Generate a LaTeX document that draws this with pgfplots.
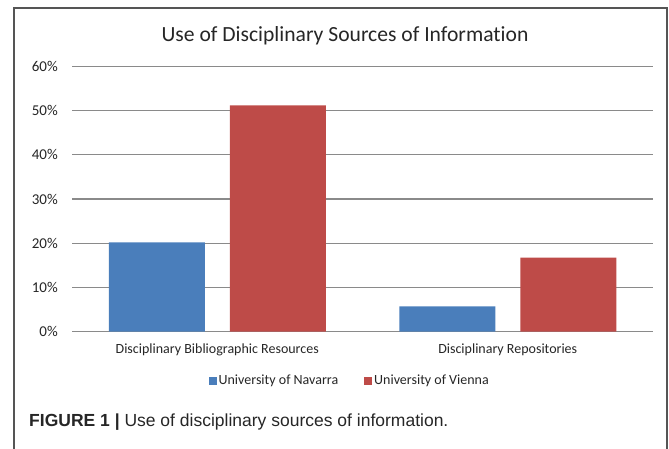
\documentclass[border=0pt]{standalone}
\usepackage{pgfplots}
\pgfplotsset{compat=1.18}
\usepackage{fontspec}
\setmainfont{Carlito}[Ligatures={NoCommon}]
\newfontfamily\captionfont{Liberation Sans}
\definecolor{navarra}{HTML}{4A7EBB}
\definecolor{vienna}{HTML}{BE4B48}
\definecolor{gridgray}{HTML}{8A8A8A}
\definecolor{framegray}{HTML}{555555}
\definecolor{labelgray}{HTML}{262626}
\begin{document}
\begin{tikzpicture}
\path[use as bounding box] (0pt,0pt) rectangle (669pt,-449pt);
% open frame round the chart and its caption
\draw[framegray, line width=1.4pt] (14pt,-452pt) -- (14pt,-8pt) -- (667pt,-8pt) -- (667pt,-452pt);
\node[font=\fontsize{21.6}{25}\selectfont, text=labelgray, anchor=base, inner sep=0pt] at (345pt,-42pt)
  {Use of Disciplinary Sources of Information};
\begin{axis}[
  at={(72pt,-331.5pt)}, anchor=south west,
  scale only axis, width=581pt, height=265pt,
  xmin=-0.5, xmax=1.5, ymin=0, ymax=60,
  ybar=25pt, bar width=96pt,
  axis line style={draw=none},
  major tick length=0pt,
  ymajorgrids, grid style={gridgray, line width=1.3pt},
  ytick={0,10,20,30,40,50,60},
  yticklabels={0\%,10\%,20\%,30\%,40\%,50\%,60\%},
  xtick={0,1},
  xticklabels={Disciplinary Bibliographic Resources, Disciplinary Repositories},
  tick label style={font=\fontsize{14}{16}\selectfont, text=labelgray},
  yticklabel style={inner sep=0pt, xshift=-14pt, font=\fontsize{15}{17}\selectfont},
  xticklabel style={inner sep=0pt, yshift=-12pt},
  legend style={at={(0.478,-0.186)}, anchor=center, draw=none,
    font=\fontsize{14}{16}\selectfont, text=labelgray,
    /tikz/every even column/.append style={column sep=24pt}},
  legend columns=2,
  legend image code/.code={\fill[#1] (0pt,-4pt) rectangle (8pt,4pt);},
]
\addplot[fill=navarra, draw=none] coordinates {(0,20.2) (1,5.7)};
\addplot[fill=vienna, draw=none] coordinates {(0,51.2) (1,16.7)};
\legend{University of Navarra, University of Vienna}
\end{axis}
\node[anchor=base west, inner sep=0pt, font=\captionfont\fontsize{17.5}{20}\selectfont, text=labelgray]
  at (29pt,-426.7pt) {\textbf{FIGURE 1 |} Use of disciplinary sources of information.};
\end{tikzpicture}
\end{document}
